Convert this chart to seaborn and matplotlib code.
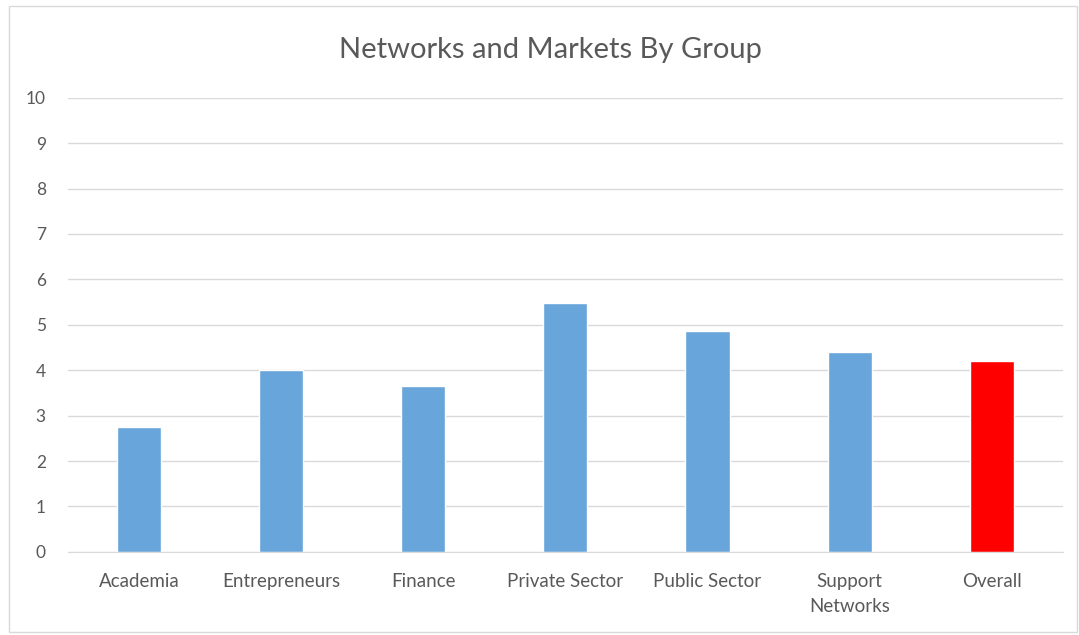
import seaborn as sns
import pandas as pd
from matplotlib import pyplot as plt
from matplotlib.patches import Rectangle

groups = ["Academia", "Entrepreneurs", "Finance", "Private Sector",
          "Public Sector", "Support\nNetworks", "Overall"]
scores = [2.75, 4.0, 3.66, 5.49, 4.87, 4.41, 4.21]
bar_colors = ["#67A5DA"] * 6 + ["#FF0000"]

df = pd.DataFrame({"group": groups, "score": scores})

sns.set_style("white")
plt.rcParams["font.family"] = ["Lato", "DejaVu Sans"]

fig = plt.figure(figsize=(10.79, 6.35), dpi=100)
ax = fig.add_axes([0.063, 0.131, 0.922, 0.715])
sns.barplot(data=df, x="group", y="score", hue="group", palette=bar_colors,
            width=0.31, legend=False, ax=ax, saturation=1)

ax.set_ylim(0, 10)
ax.set_yticks(range(0, 11))
ax.yaxis.grid(True, color="#D9D9D9", linewidth=1)
ax.set_axisbelow(True)
ax.set_xlabel("")
ax.set_ylabel("")
for s in ["top", "right", "left"]:
    ax.spines[s].set_visible(False)
ax.spines["bottom"].set_color("#D9D9D9")
ax.tick_params(axis="both", length=0, colors="#595959")
ax.tick_params(axis="x", pad=15, labelsize=13.5)
ax.tick_params(axis="y", pad=16, labelsize=12.5)
for lab in ax.get_xticklabels():
    lab.set_linespacing(1.6)

fig.text(0.51, 0.922, "Networks and Markets By Group", ha="center", va="center",
         fontsize=21, color="#595959")
fig.patches.append(Rectangle((0.008, 0.005), 0.99, 0.985, transform=fig.transFigure,
                             fill=False, edgecolor="#D9D9D9", linewidth=1))

fig.savefig("out.png", dpi=100)
